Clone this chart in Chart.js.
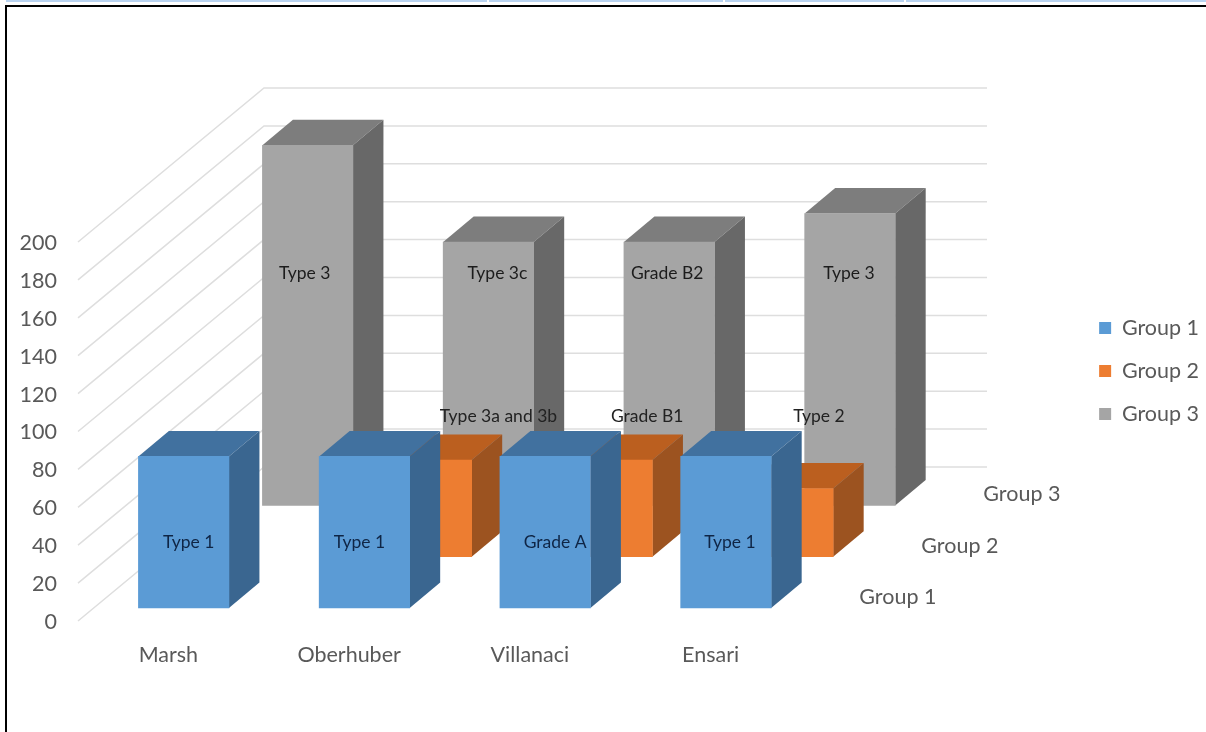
<!DOCTYPE html>
<html>
<head>
<meta charset="utf-8">
<title>Grupos</title>
<script src="https://cdn.jsdelivr.net/npm/chart.js@4"></script>
<style>
  body { margin: 0; background: #fff; overflow: hidden; }
  #chart { position: absolute; left: 0; top: 0; }
  .linha { position: absolute; }
</style>
</head>
<body>
<div class="linha" style="left:6px;top:0;width:481px;height:2px;background:#b9d3f0"></div>
<div class="linha" style="left:489px;top:0;width:234px;height:2px;background:#b9d3f0"></div>
<div class="linha" style="left:725px;top:0;width:179px;height:2px;background:#b9d3f0"></div>
<div class="linha" style="left:906px;top:0;width:300px;height:2px;background:#b9d3f0"></div>
<div class="linha" style="left:5px;top:5px;width:1201px;height:2px;background:#000"></div>
<div class="linha" style="left:5px;top:5px;width:2px;height:727px;background:#000"></div>
<canvas id="chart" width="1206" height="732"></canvas>
<script>
// =============================
// Dados
// =============================
const categorias = ["Marsh", "Oberhuber", "Villanaci", "Ensari"];
const grupos = ["Group 1", "Group 2", "Group 3"];

const grupo1 = [80, 80, 80, 80];
const grupo2 = [null, 51, 51, 36];
const grupo3 = [190, 139, 139, 154];

const rotulos1 = ["Type 1", "Type 1", "Grade A", "Type 1"];
const rotulos2 = ["", "Type 3a and 3b", "Grade B1", "Type 2"];
const rotulos3 = ["Type 3", "Type 3c", "Grade B2", "Type 3"];

// =============================
// Estilo e perspectiva
// =============================
const FONTE = "Lato";
const TAM_EIXO = 21.5;
const CORES = [
  { frente: "#5b9bd5", topo: "#41719f", lado: "#3a6690" },
  { frente: "#ed7d31", topo: "#bb5f1f", lado: "#9c5320" },
  { frente: "#a5a5a5", topo: "#7d7d7d", lado: "#686868" }
];
const PAREDE = { dx: 186, dy: -154 };
const PROFUNDIDADE = { dx: 30.5, dy: -25.5 };
const desloc = i => ({ dx: 15.3 + 62 * i, dy: -13 - 51.3 * i });

// posicao manual dos rotulos, como no original
const rotuloValor = [34.5, 74, 122.5];
const rotuloAjuste = [
  [5, -5, 10, 4],
  [0, 72, 40, 31],
  [-3, 9, -2, -1]
];
const rotuloCor = ["#0f2545", "#222", "#1c1c1c"];
const rotulos = [rotulos1, rotulos2, rotulos3];

function poligono(ctx, pontos, cor) {
  ctx.fillStyle = cor;
  ctx.beginPath();
  pontos.forEach((p, i) => i ? ctx.lineTo(p[0], p[1]) : ctx.moveTo(p[0], p[1]));
  ctx.closePath();
  ctx.fill();
}

const plugin3d = {
  id: "plugin3d",
  // parede e linhas de grade
  beforeDatasetsDraw(chart) {
    const { ctx, chartArea, scales } = chart;
    ctx.save();
    ctx.strokeStyle = "#dedede";
    ctx.lineWidth = 1.5;
    scales.y.ticks.forEach(t => {
      const py = scales.y.getPixelForValue(t.value);
      ctx.beginPath();
      ctx.moveTo(chartArea.left, py);
      ctx.lineTo(chartArea.left + PAREDE.dx, py + PAREDE.dy);
      ctx.lineTo(chartArea.right + PAREDE.dx, py + PAREDE.dy);
      ctx.stroke();
    });
    ctx.restore();
  },
  // faces de cima e do lado, depois a frente e desenhada pelo proprio Chart.js
  beforeDatasetDraw(chart, args) {
    const { ctx } = chart;
    const d = desloc(args.index);
    const cor = CORES[args.index];
    const valores = chart.data.datasets[args.index].data;
    ctx.save();
    ctx.translate(d.dx, d.dy);
    args.meta.data.forEach((el, i) => {
      if (valores[i] === null) return;
      const p = el.getProps(["x", "y", "base", "width"], true);
      const esq = p.x - p.width / 2;
      const dir = p.x + p.width / 2;
      const px = PROFUNDIDADE.dx;
      const py = PROFUNDIDADE.dy;
      poligono(ctx, [[esq, p.y], [esq + px, p.y + py], [dir + px, p.y + py], [dir, p.y]], cor.topo);
      poligono(ctx, [[dir, p.y], [dir + px, p.y + py], [dir + px, p.base + py], [dir, p.base]], cor.lado);
    });
  },
  afterDatasetDraw(chart) {
    chart.ctx.restore();
  },
  // rotulos das barras e nomes dos grupos
  afterDatasetsDraw(chart) {
    const { ctx, chartArea, scales } = chart;
    ctx.save();
    ctx.textBaseline = "middle";
    ctx.font = "17.5px " + FONTE;
    ctx.textAlign = "center";
    rotulos.forEach((lista, g) => {
      const d = desloc(g);
      ctx.fillStyle = rotuloCor[g];
      lista.forEach((txt, i) => {
        const x = scales.x.getPixelForValue(i) + d.dx + rotuloAjuste[g][i];
        const y = scales.y.getPixelForValue(rotuloValor[g]) + d.dy;
        ctx.fillText(txt, x, y);
      });
    });
    ctx.font = TAM_EIXO + "px " + FONTE;
    ctx.textAlign = "left";
    ctx.fillStyle = "#595959";
    grupos.forEach((txt, g) => {
      const d = desloc(g);
      ctx.fillText(txt, chartArea.right + 43 + d.dx, scales.y.getPixelForValue(0) + d.dy - 11);
    });
    ctx.restore();
  }
};

// =============================
// Grafico
// =============================
const semEixo = {
  type: "linear",
  grid: { display: false },
  border: { display: false },
  ticks: { display: false }
};

new Chart(document.getElementById("chart"), {
  type: "bar",
  data: {
    labels: categorias,
    datasets: [grupo1, grupo2, grupo3].map((valores, i) => ({
      label: grupos[i],
      data: valores,
      backgroundColor: CORES[i].frente,
      barThickness: 90.5,
      grouped: false,
      clip: false
    }))
  },
  options: {
    responsive: false,
    animation: false,
    layout: { padding: { top: 10, right: -3, left: 0, bottom: 0 } },
    plugins: {
      tooltip: { enabled: false },
      legend: {
        position: "right",
        labels: {
          boxWidth: 12,
          boxHeight: 12,
          padding: 21.5,
          color: "#595959",
          font: { family: FONTE, size: TAM_EIXO }
        }
      }
    },
    scales: {
      x: {
        grid: { display: false },
        border: { display: false },
        ticks: { color: "#595959", padding: 13, maxRotation: 0, autoSkip: false, font: { family: FONTE, size: TAM_EIXO } },
        afterFit(s) { s.height = 111; }
      },
      y: {
        min: 0,
        max: 200,
        grid: { display: false, drawTicks: false },
        border: { display: false },
        ticks: { stepSize: 20, color: "#595959", padding: 21, labelOffset: 1, font: { family: FONTE, size: TAM_EIXO } },
        afterFit(s) { s.width = 78; }
      },
      folgaTopo: { ...semEixo, position: "top", afterFit(s) { s.height = 232; } },
      folgaDireita: {
        ...semEixo,
        position: "right",
        afterFit(s) { s.width = 1206 + 3 - 801 - s.chart.legend.width; }
      }
    }
  },
  plugins: [plugin3d]
});
</script>
</body>
</html>
